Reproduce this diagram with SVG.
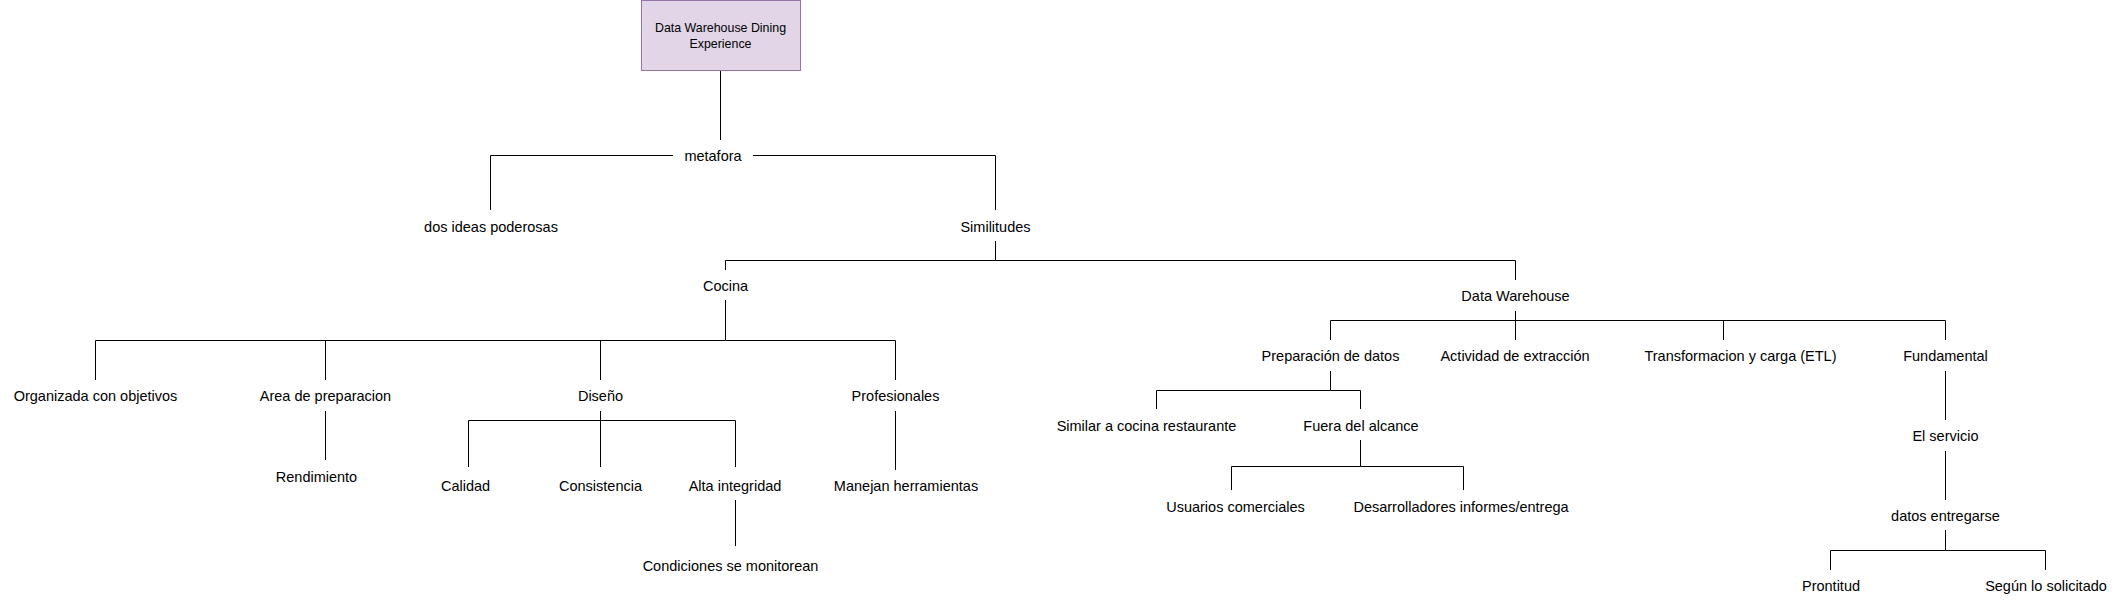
<svg xmlns="http://www.w3.org/2000/svg" width="2121" height="602" viewBox="0 0 2121 602">
<style>
.bg{fill:#ffffff}
.lbl{font-family:"Liberation Sans",Arial,sans-serif;font-size:14.5px;fill:#000000;text-anchor:middle}
.ttl{font-family:"Liberation Sans",Arial,sans-serif;font-size:12.4px;fill:#000000;text-anchor:middle}
.nb{fill:none;stroke:none}
.edge{fill:none;stroke:#000000;stroke-width:1}
</style>
<rect class="bg" x="0" y="0" width="2121" height="602"/>
<g id="connectors">
<path class="edge" d="M720.5 71 V140"/>
<path class="edge" d="M673 155.5 H490.5 V210"/>
<path class="edge" d="M753 155.5 H995.5 V210"/>
<path class="edge" d="M995.5 241 V260.5 H725.5 V270"/>
<path class="edge" d="M995.5 260.5 H1515.5 V280"/>
<path class="edge" d="M725.5 300 V340.5 H95.5 V380"/>
<path class="edge" d="M325.5 340.5 V380"/>
<path class="edge" d="M600.5 340.5 V380"/>
<path class="edge" d="M725.5 340.5 H895.5 V380"/>
<path class="edge" d="M325.5 411 V460"/>
<path class="edge" d="M600.5 411 V420.5 H468.5 V467"/>
<path class="edge" d="M600.5 420.5 V467"/>
<path class="edge" d="M600.5 420.5 H735.5 V467"/>
<path class="edge" d="M895.5 411 V470"/>
<path class="edge" d="M735.5 500 V546"/>
<path class="edge" d="M1515.5 311 V320.5 H1330.5 V340"/>
<path class="edge" d="M1515.5 320.5 V340"/>
<path class="edge" d="M1515.5 320.5 H1945.5 V340"/>
<path class="edge" d="M1723.5 320.5 V340"/>
<path class="edge" d="M1330.5 371 V390.5 H1156.5 V409"/>
<path class="edge" d="M1330.5 390.5 H1360.5 V409"/>
<path class="edge" d="M1360.5 440 V466.5 H1231.5 V490"/>
<path class="edge" d="M1360.5 466.5 H1463.5 V490"/>
<path class="edge" d="M1945.5 371 V420"/>
<path class="edge" d="M1945.5 451 V500"/>
<path class="edge" d="M1945.5 530 V550.5 H1830.5 V570"/>
<path class="edge" d="M1945.5 550.5 H2045.5 V570"/>
</g>
<g id="n-title">
<rect x="641.5" y="0.5" width="159" height="70" fill="#e1d5e7" stroke="#9673a6" stroke-width="1"/>
<text class="ttl" x="720.5" y="32">Data Warehouse Dining</text>
<text class="ttl" x="720.5" y="47.5">Experience</text>
</g>
<g id="n-metafora"><rect class="nb" x="673" y="140" width="80" height="30"/><text class="lbl" x="713" y="160.5">metafora</text></g>
<g id="n-dosideas"><rect class="nb" x="420" y="210" width="142" height="31"/><text class="lbl" x="491" y="231.5">dos ideas poderosas</text></g>
<g id="n-similitudes"><rect class="nb" x="955" y="210" width="81" height="31"/><text class="lbl" x="995.5" y="231.5">Similitudes</text></g>
<g id="n-cocina"><rect class="nb" x="696" y="270" width="60" height="30"/><text class="lbl" x="725.5" y="290.5">Cocina</text></g>
<g id="n-dw"><rect class="nb" x="1466" y="280" width="100" height="31"/><text class="lbl" x="1515.5" y="301">Data Warehouse</text></g>
<g id="n-organizada"><rect class="nb" x="10" y="380" width="172" height="31"/><text class="lbl" x="95.5" y="400.5">Organizada con objetivos</text></g>
<g id="n-area"><rect class="nb" x="255" y="380" width="141" height="31"/><text class="lbl" x="325.5" y="400.5">Area de preparacion</text></g>
<g id="n-diseno"><rect class="nb" x="570" y="380" width="61" height="31"/><text class="lbl" x="600.5" y="400.5">Diseño</text></g>
<g id="n-profesionales"><rect class="nb" x="850" y="380" width="91" height="31"/><text class="lbl" x="895.5" y="400.5">Profesionales</text></g>
<g id="n-rendimiento"><rect class="nb" x="271" y="460" width="90" height="31"/><text class="lbl" x="316.5" y="481.5">Rendimiento</text></g>
<g id="n-calidad"><rect class="nb" x="435" y="467" width="61" height="33"/><text class="lbl" x="465.5" y="490.5">Calidad</text></g>
<g id="n-consistencia"><rect class="nb" x="560" y="467" width="81" height="33"/><text class="lbl" x="600.5" y="490.5">Consistencia</text></g>
<g id="n-alta"><rect class="nb" x="685" y="467" width="101" height="33"/><text class="lbl" x="735" y="490.5">Alta integridad</text></g>
<g id="n-manejan"><rect class="nb" x="830" y="470" width="152" height="30"/><text class="lbl" x="906" y="490.5">Manejan herramientas</text></g>
<g id="n-condiciones"><rect class="nb" x="640" y="546" width="181" height="31"/><text class="lbl" x="730.5" y="571">Condiciones se monitorean</text></g>
<g id="n-preparacion"><rect class="nb" x="1260" y="340" width="141" height="31"/><text class="lbl" x="1330.5" y="361">Preparación de datos</text></g>
<g id="n-actividad"><rect class="nb" x="1435" y="340" width="161" height="31"/><text class="lbl" x="1515" y="361">Actividad de extracción</text></g>
<g id="n-etl"><rect class="nb" x="1640" y="340" width="201" height="31"/><text class="lbl" x="1740.5" y="361">Transformacion y carga (ETL)</text></g>
<g id="n-fundamental"><rect class="nb" x="1900" y="340" width="91" height="31"/><text class="lbl" x="1945.5" y="361">Fundamental</text></g>
<g id="n-similar"><rect class="nb" x="1050" y="409" width="193" height="31"/><text class="lbl" x="1146.5" y="430.5">Similar a cocina restaurante</text></g>
<g id="n-fuera"><rect class="nb" x="1300" y="409" width="122" height="31"/><text class="lbl" x="1361" y="430.5">Fuera del alcance</text></g>
<g id="n-usuarios"><rect class="nb" x="1165" y="490" width="141" height="31"/><text class="lbl" x="1235.5" y="511.5">Usuarios comerciales</text></g>
<g id="n-desarrolladores"><rect class="nb" x="1350" y="490" width="222" height="31"/><text class="lbl" x="1461" y="511.5">Desarrolladores informes/entrega</text></g>
<g id="n-servicio"><rect class="nb" x="1905" y="420" width="81" height="31"/><text class="lbl" x="1945.5" y="441">El servicio</text></g>
<g id="n-datos"><rect class="nb" x="1890" y="500" width="111" height="30"/><text class="lbl" x="1945.5" y="520.5">datos entregarse</text></g>
<g id="n-prontitud"><rect class="nb" x="1795" y="570" width="72" height="31"/><text class="lbl" x="1831" y="591">Prontitud</text></g>
<g id="n-segun"><rect class="nb" x="1986" y="570" width="121" height="31"/><text class="lbl" x="2046" y="591">Según lo solicitado</text></g>
</svg>
